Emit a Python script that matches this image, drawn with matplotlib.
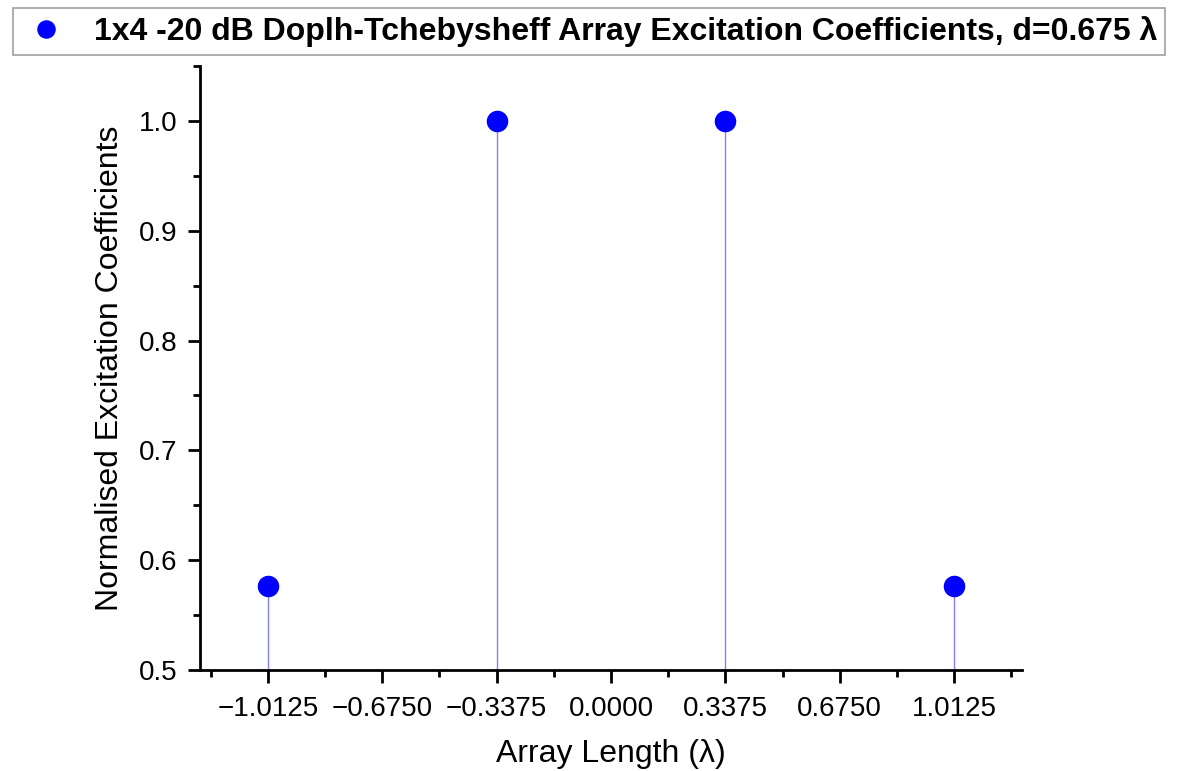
import numpy as np
import matplotlib.pyplot as plt
from matplotlib.ticker import MultipleLocator, FixedLocator

# element positions (in wavelengths) and normalised excitation coefficients
positions = [-1.0125, -0.3375, 0.3375, 1.0125]
coefficients = [0.5761, 1.0, 1.0, 0.5761]
xtick_values = [-1.0125, -0.675, -0.3375, 0.0, 0.3375, 0.675, 1.0125]
legend_label = '1x4 -20 dB Doplh-Tchebysheff Array Excitation Coefficients, d=0.675 λ'

plt.rcParams['font.family'] = ['Liberation Sans', 'DejaVu Sans']

fig = plt.figure(figsize=(11.78, 7.71), dpi=100)
ax = fig.add_axes([200 / 1178, 101 / 771, 822 / 1178, 604 / 771])

ymin = 0.5
ax.vlines(positions, ymin, coefficients, color='#0000ff', alpha=0.5, linewidth=1.0, zorder=2)
ax.plot(positions, coefficients, 'o', color='#0000ff', markersize=14.5, linestyle='none',
        label=legend_label, zorder=3, clip_on=False)

ax.set_xlim(-1.2125, 1.2125)
ax.set_ylim(0.5, 1.05)

# minor ticks sit halfway between the majors
minor_x = list(np.array(xtick_values) - 0.16875) + [xtick_values[-1] + 0.16875]
ax.xaxis.set_major_locator(FixedLocator(xtick_values))
ax.xaxis.set_minor_locator(FixedLocator(minor_x))
ax.set_xticklabels([f'{v:.4f}'.replace('-', '\u2212') for v in xtick_values])
ax.yaxis.set_major_locator(MultipleLocator(0.1))
ax.yaxis.set_minor_locator(MultipleLocator(0.05))
ax.yaxis.set_major_formatter(plt.FuncFormatter(lambda v, p: f'{v:.1f}'))

for s in ['top', 'right']:
    ax.spines[s].set_visible(False)
for s in ['left', 'bottom']:
    ax.spines[s].set_linewidth(2)

ax.tick_params(which='major', direction='out', length=9, width=2, labelsize=20)
ax.tick_params(axis='x', which='major', pad=10)
ax.tick_params(axis='y', which='major', pad=7)
ax.tick_params(which='minor', direction='out', length=5, width=2)

ax.set_xlabel('Array Length (λ)', fontsize=23, labelpad=12)
ax.set_ylabel('Normalised Excitation Coefficients', fontsize=23, labelpad=10)

leg = fig.legend(loc='upper center', bbox_to_anchor=(0.5, 1.0), frameon=True, fancybox=False,
                 prop={'weight': 'bold', 'size': 23}, handletextpad=0.7, borderpad=0.25,
                 markerscale=0.85, handlelength=1.6, borderaxespad=0.25)
leg.get_frame().set_edgecolor('#888888')
leg.get_frame().set_linewidth(1.2)

fig.savefig('out.png', dpi=100)
